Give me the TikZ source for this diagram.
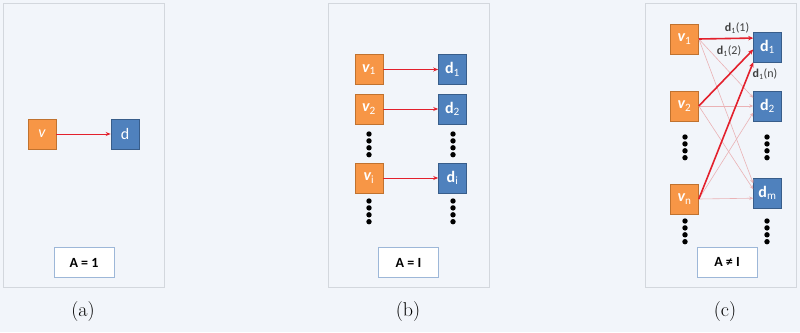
\documentclass[tikz,border=0pt]{standalone}
\usepackage{fontspec}
\newfontfamily\carl{Carlito}
\usetikzlibrary{arrows.meta,calc}
\definecolor{bgc}{HTML}{F2F5FA}
\definecolor{panelb}{HTML}{D3D7DD}
\definecolor{ofill}{HTML}{F79646}
\definecolor{odraw}{HTML}{C0722F}
\definecolor{bfill}{HTML}{4F81BD}
\definecolor{bdraw}{HTML}{385D8A}
\definecolor{redc}{HTML}{E3202C}
\definecolor{lred}{HTML}{EAB2B5}
\definecolor{lblb}{HTML}{9DB7D8}
\definecolor{labc}{HTML}{404040}
\tikzset{
  panel/.style={draw=panelb, fill=bgc, line width=0.8pt, inner sep=0},
  vbox/.style={draw=odraw, fill=ofill, line width=0.6pt, minimum width=28pt, minimum height=30pt, inner sep=0, text=white, font=\carl\fontsize{16}{16}\selectfont\bfseries\itshape},
  dbox/.style={draw=bdraw, fill=bfill, line width=0.6pt, minimum width=28pt, minimum height=30pt, inner sep=0, text=white, font=\carl\fontsize{16}{16}\selectfont\bfseries},
  lbl/.style={draw=lblb, fill=white, line width=1pt, minimum width=60pt, minimum height=30pt, inner sep=0, font=\carl\fontsize{14}{14}\selectfont\bfseries},
  capt/.style={font=\fontsize{20}{24}\selectfont, inner sep=0},
  rarr/.style={draw=redc, line width=1pt, -{Stealth[length=5pt,width=4pt]}},
  tarr/.style={draw=redc, line width=1.6pt, -{Stealth[length=5pt,width=4.5pt]}},
  larr/.style={draw=lred, line width=0.6pt, -{Stealth[length=4pt,width=3.5pt]}},
  elab/.style={text=labc, inner sep=0, font=\carl\fontsize{12}{12}\selectfont},
}
\newcommand{\dotcol}[2]{%
  \foreach \k in {0,1,2,3} {\fill[black] (#1,#2+\k*6.9) circle (2.7pt);}}
\begin{document}
\begin{tikzpicture}[x=1pt,y=-1pt]
\useasboundingbox (0,0) rectangle (800,332);
\fill[bgc] (0,0) rectangle (800,332);
% panels
\node[panel, minimum width=161pt, minimum height=284pt] (pa) at (83.5,145) {};
\node[panel, minimum width=161pt, minimum height=284pt] (pb) at (408.5,145) {};
\node[panel, minimum width=151pt, minimum height=284pt] (pc) at (721,145) {};
% (a)
\node[vbox, font=\carl\fontsize{16}{16}\selectfont\itshape] (va) at (42,134) {v};
\node[dbox, font=\carl\fontsize{16}{16}\selectfont] (da) at (125,134) {d};
\draw[rarr] (va) -- (da);
\node[lbl] (la) at (84,262.5) {A = 1};
\node[capt] (ca) at (83,312) {(a)};
% (b)
\node[vbox] (bv1) at (369,69.5) {v\textsubscript{\mdseries\upshape 1}};
\node[dbox] (bd1) at (452.5,69.5) {d\textsubscript{\mdseries 1}};
\node[vbox] (bv2) at (369,109) {v\textsubscript{\mdseries\upshape 2}};
\node[dbox] (bd2) at (452.5,109) {d\textsubscript{\mdseries 2}};
\node[vbox] (bvi) at (369,178) {v\textsubscript{\mdseries\upshape i}};
\node[dbox] (bdi) at (452.5,178) {d\textsubscript{\mdseries i}};
\draw[rarr] (bv1) -- (bd1);
\draw[rarr] (bv2) -- (bd2);
\draw[rarr] (bvi) -- (bdi);
\dotcol{369}{134}
\dotcol{453}{134}
\dotcol{369}{201}
\dotcol{453}{201}
\node[lbl] (lb) at (408.5,262.5) {A = I};
\node[capt] (cb) at (408,312) {(b)};
% (c)
\node[vbox] (cv1) at (684.5,39) {v\textsubscript{\mdseries\upshape 1}};
\node[vbox] (cv2) at (684.5,106) {v\textsubscript{\mdseries\upshape 2}};
\node[vbox] (cvn) at (684.5,199) {v\textsubscript{\mdseries\upshape n}};
\node[dbox] (cd1) at (767.5,47) {d\textsubscript{\mdseries 1}};
\node[dbox] (cd2) at (767.5,106) {d\textsubscript{\mdseries 2}};
\node[dbox] (cdm) at (767.5,193) {d\textsubscript{\mdseries m}};
\dotcol{685}{137}
\dotcol{767}{137}
\dotcol{685}{221}
\dotcol{767}{221}
% thin arrows
\draw[larr] (cv1.east) -- (cd2.150);
\draw[larr] (cv1.east) -- (cdm.146);
\draw[larr] (cv2.east) -- (cd2.west);
\draw[larr] (cv2.east) -- (cdm.165);
\draw[larr] (cvn.east) -- (cd2.205);
\draw[larr] (cvn.east) -- (cdm.200);
% thick arrows
\draw[tarr] (cv1.east) -- (cd1.148);
\draw[tarr] (cv2.east) -- (cd1.190);
\draw[tarr] (cvn.east) -- (cd1.south west);
\node[elab] (e1) at (737,28) {\textbf{d}\textsubscript{1}(1)};
\node[elab] (e2) at (729,51) {\textbf{d}\textsubscript{1}(2)};
\node[elab] (e3) at (765,74) {\textbf{d}\textsubscript{1}(n)};
\node[lbl] (lc) at (727,262) {A ≠ I};
\node[capt] (cc) at (725,312) {(c)};
\end{tikzpicture}
\end{document}
